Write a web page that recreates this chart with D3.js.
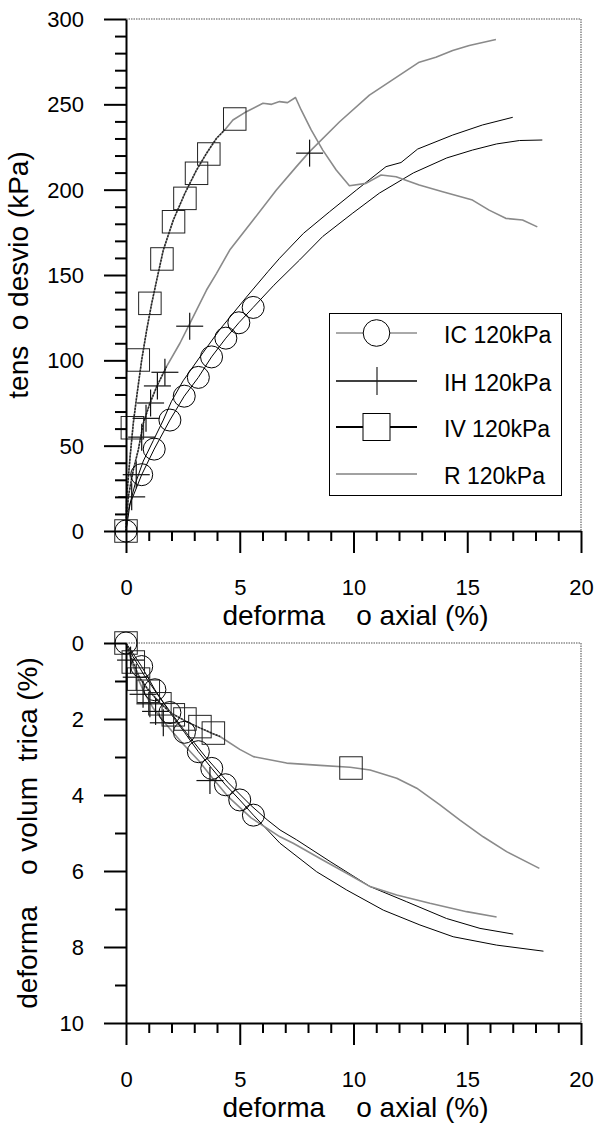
<!DOCTYPE html>
<html><head><meta charset="utf-8">
<script src="https://cdn.jsdelivr.net/npm/d3@7"></script>
<style>
html,body{margin:0;padding:0;background:#fff;}
text{font-family:"Liberation Sans",Arial,sans-serif;fill:#000;}
</style></head>
<body>
<svg id="chart" width="595" height="1126"></svg>
<script>
// ---------- data ----------
const seriesNames = ["IC 120kPa", "IH 120kPa", "IV 120kPa", "R 120kPa"];

const xMajorTicks = [0, 5, 10, 15, 20];
const xMinorTicks = [1,2,3,4,6,7,8,9,11,12,13,14,16,17,18,19];
const qMajorTicks = [0, 50, 100, 150, 200, 250, 300];
const qMinorTicks = [10,20,30,40,60,70,80,90,110,120,130,140,160,170,180,190,210,220,230,240,260,270,280,290];
const evMajorTicks = [0, 2, 4, 6, 8, 10];
const evMinorTicks = [1, 3, 5, 7, 9];

const xTitle = "deforma\u00a0\u00a0\u00a0\u00a0o axial (%)";
const qTitle = "tens\u00a0\u00a0o desvio (kPa)";
const evTitle = "deforma\u00a0\u00a0\u00a0\u00a0o volum\u00a0\u00a0trica (%)";

// top chart: axial strain (%) vs deviator stress (kPa)
const IC_q = [[0,0],[0.18,16],[0.69,33],[1.24,48],[1.93,65],[2.56,79],[3.18,90],[3.76,102],[4.39,113],[4.96,122],[5.59,131],[6.5,144],[7.34,155],[7.63,158.8],[8.65,172.6],[9.97,186.3],[11.14,198],[12.63,209.8],[14.1,218.6],[15.23,223.2],[16.29,226.8],[17.3,228.8],[18.3,229.1]];
const IC_q_marks = [[0,0],[0.69,33],[1.24,48],[1.93,65],[2.56,79],[3.18,90],[3.76,102],[4.39,113],[4.96,122],[5.59,131]];
const IH_q = [[0,0],[0.1,20],[0.32,35.7],[0.54,47.5],[0.76,63.1],[1.05,74.8],[1.35,84.6],[1.78,96.3],[2.37,110],[2.88,123.6],[3.54,141.2],[3.98,151],[4.56,164.6],[5.59,182.2],[6.61,199.8],[7.49,213.5],[8.07,222.3],[9.39,239.8],[10.7,255.4],[11.58,263.2],[12.89,274.7],[13.62,277.6],[14.36,281.5],[15.09,284.5],[16.26,288]];
const IH_q_marks = [[0.25,20],[0.45,33],[0.69,55],[0.88,66],[1.08,75],[1.38,85],[1.71,93],[2.8,120],[8.07,221.4]];
const IV_q = [[0,0],[0.03,20],[0.18,43.5],[0.32,63.1],[0.47,78.7],[0.69,100.2],[0.91,117.8],[1.13,133.4],[1.35,147],[1.64,164.6],[2.08,182.2],[2.59,197.9],[3.1,211.5],[3.54,221.3],[3.98,230.1],[4.34,235],[4.7,240.8],[5.29,245.7],[6.02,250.6],[6.4,250],[6.75,251.6],[7.1,251],[7.45,254],[7.7,246.7],[8.14,235],[8.65,223.2],[9.24,211.5],[9.82,202.3],[10.55,203.7],[11.21,208.6],[11.87,207.6],[12.89,202.7],[13.92,198.8],[15.23,193.9],[15.96,188],[16.69,183.2],[17.43,182.2],[18.08,178.2]];
const IV_q_marks = [[0,0],[0.28,60.5],[0.54,100.2],[1.05,133.4],[1.58,159.4],[2.09,181.2],[2.59,194.9],[3.1,209.6],[3.64,220.9],[4.78,241.4]];
const R_q = [[0,0],[0.1,12],[0.39,27],[0.76,41],[1.2,53],[1.64,65],[2.0,76],[2.51,88],[3.25,102],[4.12,118],[5.29,137],[6.24,152],[6.75,159.8],[7.8,174.4],[8.95,187.1],[10.13,199.8],[11.43,213.5],[12.09,215.9],[12.82,223.8],[14.36,232],[15.67,237.9],[17.0,242.4]];

// bottom chart: axial strain (%) vs volumetric strain (%)
const IC_v = [[0,0],[0.69,0.62],[1.27,1.23],[1.93,1.83],[2.57,2.35],[3.18,2.86],[3.77,3.3],[4.37,3.73],[5.0,4.13],[5.6,4.53],[6.77,5.27],[8.38,6.02],[9.7,6.5],[11.31,7.03],[12.92,7.42],[14.38,7.73],[16.29,7.95],[18.35,8.11]];
const IC_v_marks = [[0,0],[0.69,0.62],[1.27,1.23],[1.93,1.83],[2.57,2.35],[3.18,2.86],[3.77,3.3],[4.37,3.73],[5.0,4.13],[5.6,4.53]];
const IH_v = [[0,0],[0.25,0.5],[0.5,0.9],[0.8,1.3],[1.2,1.72],[1.7,2.1],[2.5,2.65],[3.2,3.1],[3.8,3.55],[4.5,4.05],[5.5,4.6],[6.77,5.1],[7.35,5.27],[8.53,5.67],[9.7,6.06],[10.73,6.41],[11.9,6.63],[13.36,6.85],[14.97,7.07],[16.29,7.21]];
const IH_v_marks = [[0.2,0.45],[0.45,0.9],[0.75,1.35],[1.05,1.6],[1.3,1.8],[1.64,2.1],[3.69,3.62]];
const IV_v = [[0,0],[0.3,0.5],[0.6,0.92],[1.0,1.25],[1.5,1.58],[2.0,1.85],[2.6,2.05],[3.2,2.22],[3.8,2.38],[4.13,2.46],[5.0,2.8],[5.6,2.99],[7.06,3.16],[8.53,3.22],[9.85,3.27],[10.73,3.34],[11.9,3.56],[12.78,3.82],[13.8,4.26],[14.68,4.66],[15.7,5.1],[16.73,5.49],[18.17,5.93]];
const IV_v_marks = [[0,0],[0.32,0.5],[0.55,0.95],[0.98,1.27],[1.49,1.6],[2.08,1.89],[2.59,2.0],[3.25,2.2],[3.84,2.37],[9.89,3.29]];
const R_v = [[0,0],[0.3,0.35],[0.8,0.85],[1.5,1.45],[2.5,2.25],[3.5,3.0],[4.5,3.68],[5.5,4.28],[6.2,4.65],[6.77,4.92],[7.5,5.18],[8.97,5.75],[10.73,6.41],[12.34,6.81],[14.09,7.25],[15.56,7.51],[17.02,7.66]];

// ---------- drawing ----------
const svg = d3.select("#chart");
const FONT_TICK = 22, FONT_TITLE = 28;

const styles = {
  IC: {line:"#000", width:1, marker:"circle"},
  IH: {line:"#8a8a8a", width:1.6, marker:"plus"},
  IV: {line:"#8a8a8a", width:1.6, marker:"square"},
  R:  {line:"#000", width:1, marker:null}
};
const legendStyles = [
  {line:"#555", width:1, marker:"circle"},
  {line:"#000", width:1.6, marker:"plus"},
  {line:"#000", width:2.2, marker:"square"},
  {line:"#444", width:1, marker:null}
];

function drawMarker(g, type, cx, cy, size) {
  if (type === "circle") {
    g.append("circle").attr("cx", cx).attr("cy", cy).attr("r", size/2)
      .attr("fill", "none").attr("stroke", "#000").attr("stroke-width", 1);
  } else if (type === "square") {
    g.append("rect").attr("x", cx - size/2).attr("y", cy - size/2)
      .attr("width", size).attr("height", size)
      .attr("fill", "none").attr("stroke", "#222").attr("stroke-width", 1);
  } else if (type === "plus") {
    g.append("line").attr("x1", cx - size/2).attr("x2", cx + size/2).attr("y1", cy).attr("y2", cy)
      .attr("stroke", "#111").attr("stroke-width", 1.2);
    g.append("line").attr("x1", cx).attr("x2", cx).attr("y1", cy - size/2).attr("y2", cy + size/2)
      .attr("stroke", "#111").attr("stroke-width", 1.2);
  }
}

function panel(opt) {
  const x = d3.scaleLinear().domain([0, 20]).range([126, 581]);
  const y = d3.scaleLinear().domain(opt.yDomain).range(opt.yRange);
  const g = svg.append("g");
  const top = Math.min(...opt.yRange), bot = Math.max(...opt.yRange);

  // dotted frame (top + right)
  g.append("path")
    .attr("d", `M${x(0)},${top}H${x(20)}V${bot}`)
    .attr("fill", "none").attr("stroke", "#8c8c8c").attr("stroke-width", 1.6)
    .attr("stroke-dasharray", "1.5,1");

  // series lines
  const line = d3.line().x(d => x(d[0])).y(d => y(d[1]));
  opt.series.forEach(s => {
    g.append("path").attr("d", line(s.data)).attr("fill", "none")
      .attr("stroke", s.style.line).attr("stroke-width", s.style.width)
      .attr("stroke-linejoin", "round");
    if (s.darkUntil) {
      // the densely sampled early part of the record shows as a dark dotted trace
      g.append("path").attr("d", line(s.data.filter(d => d[0] <= s.darkUntil))).attr("fill", "none")
        .attr("stroke", "#222").attr("stroke-width", 1.4).attr("stroke-dasharray", "2,1.2");
    }
  });
  // markers
  opt.series.forEach(s => {
    if (!s.marks) return;
    const mg = g.append("g");
    const size = s.style.marker === "plus" ? 27 : (s.style.marker === "square" ? 22.5 : 22);
    s.marks.forEach(d => drawMarker(mg, s.style.marker, x(d[0]), y(d[1]), size));
  });

  // axes
  const xAxisY = bot;
  const xa = g.append("g").attr("transform", `translate(0,${xAxisY})`)
    .call(d3.axisBottom(x).tickValues(xMajorTicks).tickSize(22).tickSizeOuter(0).tickFormat(d3.format("d")));
  xa.selectAll("text").attr("y", 64).attr("dy", null).style("font-size", FONT_TICK + "px");
  const xm = g.append("g").attr("transform", `translate(0,${xAxisY})`)
    .call(d3.axisBottom(x).tickValues(xMinorTicks).tickSize(10).tickFormat(""));
  xm.select(".domain").remove();

  const ya = g.append("g").attr("transform", `translate(${x(0)},0)`)
    .call(d3.axisLeft(y).tickValues(opt.yMajor).tickSize(22).tickSizeOuter(0).tickPadding(20).tickFormat(d3.format("d")));
  ya.selectAll("text").attr("dy", "0.34em").style("font-size", FONT_TICK + "px");
  const ym = g.append("g").attr("transform", `translate(${x(0)},0)`)
    .call(d3.axisLeft(y).tickValues(opt.yMinor).tickSize(11).tickFormat(""));
  ym.select(".domain").remove();

  g.selectAll(".domain, .tick line").attr("stroke", "#000").attr("stroke-width", 2);
  g.selectAll(".tick text").attr("fill", "#000").style("font-family", '"Liberation Sans", Arial, sans-serif');

  // titles
  g.append("text").attr("x", (x(0) + x(20)) / 2 + 2).attr("y", xAxisY + 94)
    .attr("text-anchor", "middle").style("font-size", FONT_TITLE + "px").style("white-space", "pre")
    .text(xTitle);
  g.append("text").attr("transform", `translate(${opt.yTitleX},${(top + bot) / 2}) rotate(-90)`)
    .attr("text-anchor", "middle").style("font-size", FONT_TITLE + "px").style("white-space", "pre")
    .text(opt.yTitle);
  return {x, y, g};
}

panel({
  yDomain: [0, 300], yRange: [531, 19], yMajor: qMajorTicks, yMinor: qMinorTicks,
  yTitle: qTitle, yTitleX: 28,
  series: [
    {data: R_q, style: styles.R},
    {data: IC_q, marks: IC_q_marks, style: styles.IC},
    {data: IH_q, marks: IH_q_marks, style: styles.IH, darkUntil: 1.8},
    {data: IV_q, marks: IV_q_marks, style: styles.IV, darkUntil: 4.4}
  ]
});

panel({
  yDomain: [0, 10], yRange: [643, 1023], yMajor: evMajorTicks, yMinor: evMinorTicks,
  yTitle: evTitle, yTitleX: 37,
  series: [
    {data: R_v, style: styles.R},
    {data: IC_v, marks: IC_v_marks, style: styles.IC},
    {data: IH_v, marks: IH_v_marks, style: styles.IH},
    {data: IV_v, marks: IV_v_marks, style: styles.IV, darkUntil: 4.13}
  ]
});

// legend
const legRows = [333, 381, 427, 474];
const leg = svg.append("g");
leg.append("rect").attr("x", 329.5).attr("y", 313.5).attr("width", 232).attr("height", 182)
  .attr("fill", "#fff").attr("stroke", "#000").attr("stroke-width", 1);
seriesNames.forEach((name, i) => {
  const cy = legRows[i], st = legendStyles[i];
  leg.append("line").attr("x1", 336).attr("x2", 417).attr("y1", cy).attr("y2", cy)
    .attr("stroke", st.line).attr("stroke-width", st.width);
  if (st.marker === "circle") {
    leg.append("circle").attr("cx", 376.5).attr("cy", cy).attr("r", 13.3).attr("fill", "#fff")
      .attr("stroke", "#000").attr("stroke-width", 1);
  } else if (st.marker === "square") {
    leg.append("rect").attr("x", 363).attr("y", cy - 13.5).attr("width", 27).attr("height", 27)
      .attr("fill", "#fff").attr("stroke", "#000").attr("stroke-width", 1);
  } else if (st.marker === "plus") {
    leg.append("line").attr("x1", 377).attr("x2", 377).attr("y1", cy - 14).attr("y2", cy + 14)
      .attr("stroke", "#222").attr("stroke-width", 1.2);
  }
  leg.append("text").attr("x", 444).attr("y", cy + 10).style("font-size", "23px").text(name);
});
</script>
</body></html>
